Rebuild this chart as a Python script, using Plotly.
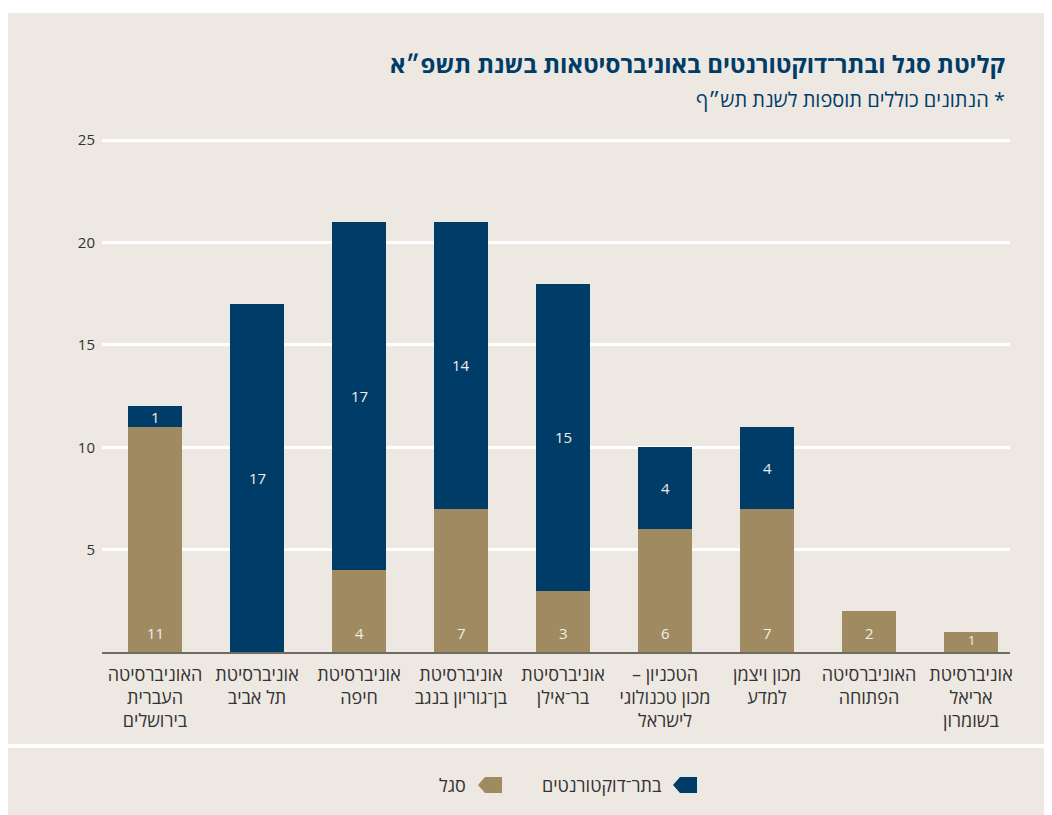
import plotly.graph_objects as go

RLM = "\u200f"

categories = [
    "האוניברסיטה<br>העברית<br>בירושלים",
    "אוניברסיטת<br>תל אביב",
    "אוניברסיטת<br>חיפה",
    "אוניברסיטת<br>בן־גוריון בנגב",
    "אוניברסיטת<br>בר־אילן",
    "הטכניון –" + RLM + "<br>מכון טכנולוגי<br>לישראל",
    "מכון ויצמן<br>למדע",
    "האוניברסיטה<br>הפתוחה",
    "אוניברסיטת<br>אריאל<br>בשומרון",
]
staff = [11, 0, 4, 7, 3, 6, 7, 2, 1]          # סגל
postdocs = [1, 17, 17, 14, 15, 4, 4, 0, 0]    # בתר־דוקטורנטים
ytick_vals = [5, 10, 15, 20, 25]

title_text = "קליטת סגל ובתר־דוקטורנטים באוניברסיטאות בשנת תשפ״א"
subtitle_text = RLM + "* הנתונים כוללים תוספות לשנת תש״ף"
legend_postdoc = "בתר־דוקטורנטים"
legend_staff = "סגל"

NAVY = "#003c68"
TAN = "#a08a61"
BEIGE = "#ede8e2"
LABEL = "#f2eee7"
TXT = "#333333"
FONT = "Open Sans, Liberation Sans, DejaVu Sans, sans-serif"

OFF = 8  # page body margin
W, H = 1052, 815
# plot area in screen pixels: x 102..1010, y 130..652
L = 102 - OFF
R = W - (1010 - OFF)
T = 130 - OFF
B = H - (652 - OFF)
PW, PH = W - L - R, H - T - B

def px_x(p):
    return (p - OFF - L) / PW

def px_y(p):
    return (H - B - (p - OFF)) / PH

# category band of 102 px, first bar centred at screen x=155
band_px = 102.0
first_center_px = 155.0
x_left = -(first_center_px - 102) / band_px
x_range = [x_left, x_left + PW / band_px]

fig = go.Figure()
fig.add_trace(go.Bar(x=categories, y=staff, marker=dict(color=TAN, line=dict(width=0)),
                     name=legend_staff, showlegend=False, hoverinfo="y"))
fig.add_trace(go.Bar(x=categories, y=postdocs, marker=dict(color=NAVY, line=dict(width=0)),
                     name=legend_postdoc, showlegend=False, hoverinfo="y"))

yrange = [0, 25.5]
px_per_unit = PH / (yrange[1] - yrange[0])

annotations = []
for c, s, p in zip(categories, staff, postdocs):
    if s > 0:
        h = s * px_per_unit
        shift = min(19, h / 2 + 2)
        annotations.append(dict(x=c, y=0, xref="x", yref="y", text=str(s), showarrow=False,
                                yanchor="middle", yshift=shift,
                                font=dict(size=15 if h > 30 else 13, color=LABEL, family=FONT)))
    if p > 0:
        annotations.append(dict(x=c, y=s + p / 2, xref="x", yref="y", text=str(p), showarrow=False,
                                yanchor="middle",
                                font=dict(size=15, color=LABEL, family=FONT)))

annotations.append(dict(x=px_x(1007), y=px_y(63), xref="paper", yref="paper", text="<b>" + title_text + "</b>",
                        showarrow=False, xanchor="right", yanchor="middle",
                        font=dict(size=24, color=NAVY, family=FONT)))
annotations.append(dict(x=px_x(1007), y=px_y(100), xref="paper", yref="paper", text=subtitle_text,
                        showarrow=False, xanchor="right", yanchor="middle",
                        font=dict(size=20, color=NAVY, family=FONT)))
annotations.append(dict(x=px_x(664), y=px_y(785), xref="paper", yref="paper", text=legend_postdoc,
                        showarrow=False, xanchor="right", yanchor="middle",
                        font=dict(size=18, color=TXT, family=FONT)))
annotations.append(dict(x=px_x(468), y=px_y(785), xref="paper", yref="paper", text=legend_staff,
                        showarrow=False, xanchor="right", yanchor="middle",
                        font=dict(size=18, color=TXT, family=FONT)))

def marker_path(left, right, top, bottom, bevel=7):
    mid = (top + bottom) / 2
    pts = [(left, mid), (left + bevel, top), (right, top), (right, bottom), (left + bevel, bottom)]
    d = "M " + " L ".join(f"{px_x(x):.5f},{px_y(y):.5f}" for x, y in pts) + " Z"
    return d

shapes = [
    dict(type="rect", xref="paper", yref="paper", x0=px_x(8), x1=px_x(W + 20), y0=px_y(744), y1=px_y(13),
         fillcolor=BEIGE, line=dict(width=0), layer="below"),
    dict(type="rect", xref="paper", yref="paper", x0=px_x(8), x1=px_x(W + 20), y0=px_y(H + 20), y1=px_y(748),
         fillcolor=BEIGE, line=dict(width=0), layer="below"),
    dict(type="path", xref="paper", yref="paper", path=marker_path(673, 697, 777, 793),
         fillcolor=NAVY, line=dict(width=0)),
    dict(type="path", xref="paper", yref="paper", path=marker_path(478, 502, 777, 793),
         fillcolor=TAN, line=dict(width=0)),
]

fig.update_layout(
    width=W, height=H,
    margin=dict(l=L, r=R, t=T, b=B, pad=0),
    paper_bgcolor="white",
    plot_bgcolor="rgba(0,0,0,0)",
    barmode="stack",
    bargap=0.48,
    showlegend=False,
    font=dict(family=FONT, color=TXT),
    annotations=annotations,
    shapes=shapes,
    xaxis=dict(range=x_range, showgrid=False, showline=True, linecolor="#6e6a64", linewidth=2,
               ticks="", ticklabelstandoff=5,
               tickfont=dict(size=18, color=TXT, family=FONT), fixedrange=True),
    yaxis=dict(range=yrange, tickvals=ytick_vals, showgrid=True, gridcolor="white", gridwidth=2.5,
               zeroline=False, showline=False, ticks="", ticklabelstandoff=6,
               tickfont=dict(size=15, color=TXT, family=FONT), fixedrange=True),
)

fig.write_html("out.html")
